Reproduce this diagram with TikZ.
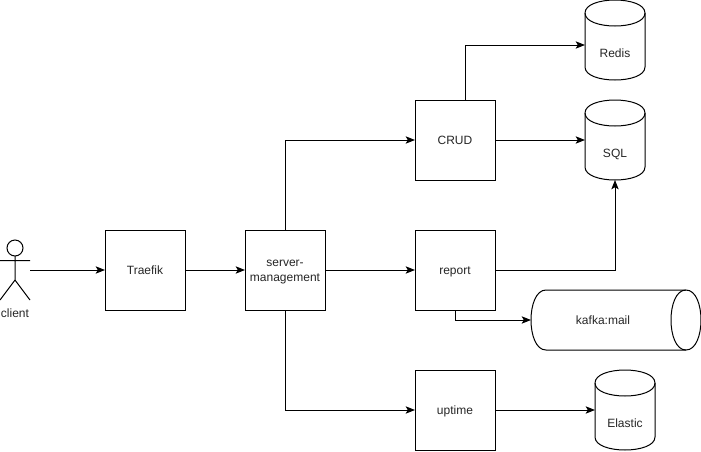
\documentclass[tikz,border=0pt]{standalone}
\usepackage{fontspec}
\setmainfont{Liberation Sans}
\usetikzlibrary{arrows.meta,calc}
\tikzset{
  x=0.75pt,y=-0.75pt,
  every node/.style={font=\fontsize{9pt}{11.25pt}\selectfont,text=black!85,inner sep=0pt,outer sep=0pt,text height=8.5pt,text depth=2pt},
  procbox/.style={draw=black,line width=0.75pt,minimum width=60pt,minimum height=60pt,align=center},
  cylbox/.style={minimum width=45pt,minimum height=60pt},
  vshape/.style={line width=0.75pt,draw=black},
  conn/.style={line width=0.75pt,draw=black,-{Stealth[length=7pt,width=5.5pt,inset=1.6pt]}},
}
\newcommand{\dbcyl}[4]{% name, centre x, centre y, label
  \node[cylbox,label={[name=#1text,yshift=-9.5pt]center:#4}] (#1) at (#2,#3) {};
  \draw[vshape] (#2-30,#3-27) .. controls (#2-30,#3-44.33) and (#2+30,#3-44.33) .. (#2+30,#3-27)
    -- (#2+30,#3+27) .. controls (#2+30,#3+44.33) and (#2-30,#3+44.33) .. (#2-30,#3+27) -- cycle;
  \draw[vshape] (#2-30,#3-27) .. controls (#2-30,#3-9.67) and (#2+30,#3-9.67) .. (#2+30,#3-27);
}
\begin{document}
\begin{tikzpicture}
\useasboundingbox (0,0) rectangle (701,451);
\fill[white] (0,0) rectangle (701,451);
% boxes
\node[procbox] (traefik) at (145,270) {Traefik};
\node[procbox,text height=,text depth=] (server) at (285,270) {\rule{0pt}{8.5pt}server-\\management\rule[-2pt]{0pt}{2pt}};
\node[procbox] (crud) at (455,140) {CRUD};
\node[procbox] (report) at (455,270) {report};
\node[procbox] (uptime) at (455,410) {uptime};
% databases
\dbcyl{redis}{615}{40}{Redis}
\dbcyl{sql}{615}{140}{SQL}
\dbcyl{elastic}{625}{410}{Elastic}
% queue
\node[minimum width=127.5pt,minimum height=45pt] (kafka) at (616,320) {};
\node at (603,320) (kafkatext) {kafka:mail};
\draw[vshape] (686,290) .. controls (706,290) and (706,350) .. (686,350)
  -- (546,350) .. controls (526,350) and (526,290) .. (546,290) -- cycle;
\draw[vshape] (686,290) .. controls (666,290) and (666,350) .. (686,350);
% actor
\node[minimum width=22.5pt,minimum height=45pt] (actor) at (15,270) {};
\node (clienttext) at (15,313) {client};
\draw[vshape] (15,248) circle [radius=6pt];
\draw[vshape] (15,256) -- (15,280) (0,260.5) -- (30,260.5)
  (0,300) -- (15,280) -- (30,300);
% connector ends that are off the nodes' centres
\coordinate (crudtop) at (465,100);
\coordinate (rediside) at (585,45);
% connectors
\draw[conn] (actor.east) -- (traefik.west);
\draw[conn] (traefik.east) -- (server.west);
\draw[conn] (server.east) -- (report.west);
\draw[conn] (server.north) |- (crud.west);
\draw[conn] (server.south) |- (uptime.west);
\draw[conn] (crud.east) -- (sql.west);
\draw[conn] (crudtop) |- (rediside);
\draw[conn] (report.east) -| (sql.south);
\draw[conn] (report.south) |- (kafka.west);
\draw[conn] (uptime.east) -- (elastic.west);
\end{tikzpicture}
\end{document}
